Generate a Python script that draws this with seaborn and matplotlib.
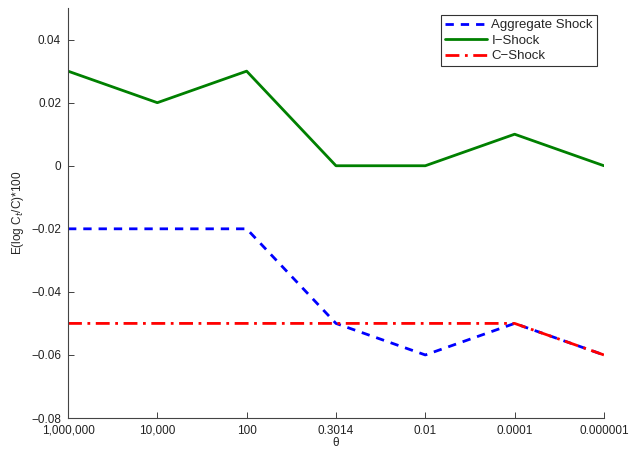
import matplotlib
matplotlib.use("Agg")
import matplotlib.pyplot as plt
import seaborn as sns
import pandas as pd

# values
theta_labels = ['1,000,000', '10,000', '100', '0.3014', '0.01', '0.0001', '0.000001']
aggregate_shock = [-0.02, -0.02, -0.02, -0.05, -0.06, -0.05, -0.06]
i_shock = [0.03, 0.02, 0.03, 0.0, 0.0, 0.01, 0.0]
c_shock = [-0.05, -0.05, -0.05, -0.05, -0.05, -0.05, -0.06]

sns.set_style("ticks")
plt.rcParams['font.family'] = ['Liberation Sans', 'DejaVu Sans']
plt.rcParams['xtick.direction'] = 'in'
plt.rcParams['ytick.direction'] = 'in'

df = pd.DataFrame({'x': range(len(theta_labels)),
                   'Aggregate Shock': aggregate_shock,
                   'I\u2212Shock': i_shock,
                   'C\u2212Shock': c_shock})

fig = plt.figure(figsize=(6.32, 4.49), dpi=100)
ax = fig.add_axes([0.1076, 0.069, 0.848, 0.913])

sns.lineplot(data=df, x='x', y='Aggregate Shock', ax=ax, color='#0000ff',
             linestyle=(0, (3, 2.5)), linewidth=2, label='Aggregate Shock')
sns.lineplot(data=df, x='x', y='I\u2212Shock', ax=ax, color='#008000',
             linewidth=2, label='I\u2212Shock')
sns.lineplot(data=df, x='x', y='C\u2212Shock', ax=ax, color='#ff0000',
             linestyle=(0, (5, 2, 1, 2)), linewidth=2, label='C\u2212Shock')

ax.set_xlim(0, len(theta_labels) - 1)
ax.set_ylim(-0.08, 0.05)
ax.set_xticks(range(len(theta_labels)))
ax.set_xticklabels(theta_labels, fontsize=8.5)
ax.set_yticks([-0.08, -0.06, -0.04, -0.02, 0, 0.02, 0.04])
ax.set_yticklabels(['\u22120.08', '\u22120.06', '\u22120.04', '\u22120.02', '0', '0.02', '0.04'], fontsize=8.5)
ax.tick_params(length=4, width=0.6, colors='#222222', pad=5)
ax.set_xlabel('\u03b8', fontsize=8.5, labelpad=0)
ax.set_ylabel('E(log C$_t$/C)*100', fontsize=8.5, labelpad=4)

for s in ['top', 'right']:
    ax.spines[s].set_visible(False)
for s in ['left', 'bottom']:
    ax.spines[s].set_linewidth(0.8)
    ax.spines[s].set_color('#444444')

leg = ax.legend(loc='upper right', fontsize=9.5, frameon=True, fancybox=False,
                edgecolor='black', handlelength=3.2, borderpad=0.3,
                labelspacing=0.25, handletextpad=0.3, bbox_to_anchor=(0.999, 0.999))
leg.get_frame().set_linewidth(0.8)

fig.savefig('out.png', dpi=100)
